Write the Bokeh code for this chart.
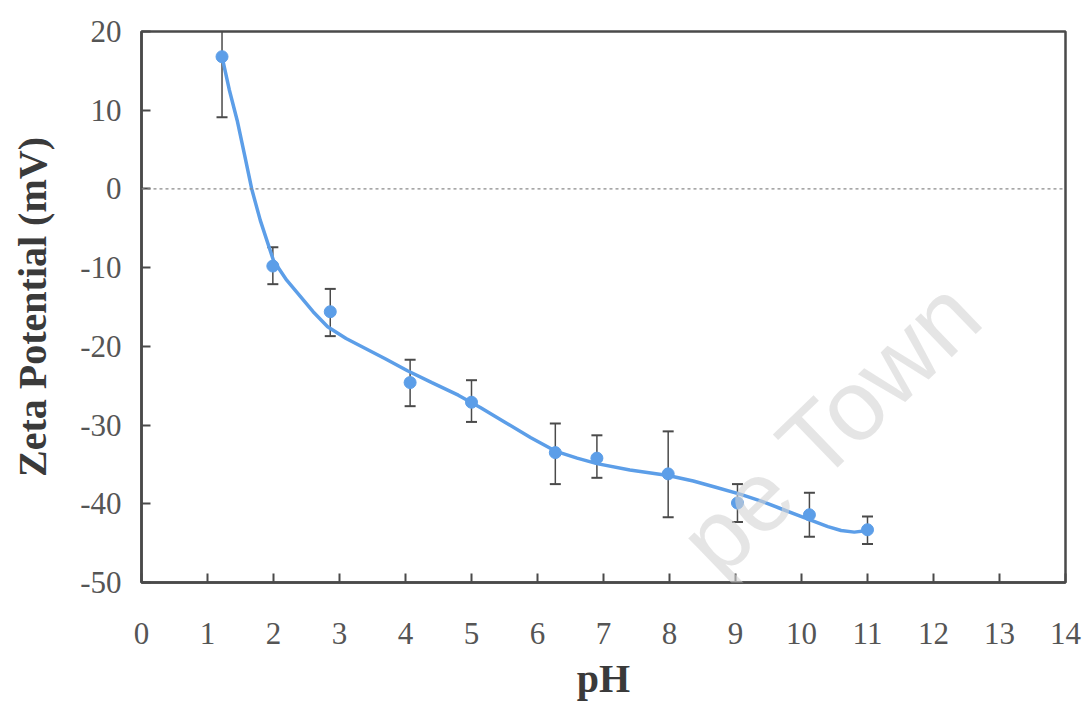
from bokeh.plotting import figure
from bokeh.models import Range1d, Span, Whisker, TeeHead, ColumnDataSource, Label, FixedTicker
from bokeh.embed import file_html
from bokeh.resources import INLINE
import math

# Measured zeta potential vs pH
ph = [1.22, 1.99, 2.86, 4.07, 5.0, 6.27, 6.9, 7.98, 9.03, 10.12, 11.0]
zeta = [16.8, -9.8, -15.6, -24.6, -27.1, -33.5, -34.2, -36.2, -39.9, -41.4, -43.3]
err_low = [9.1, -12.1, -18.7, -27.6, -29.6, -37.5, -36.7, -41.7, -42.3, -44.2, -45.1]
err_high = [20.5, -7.4, -12.7, -21.7, -24.3, -29.8, -31.3, -30.8, -37.5, -38.6, -41.6]

# Smoothed trend curve
fit_ph = [1.22, 1.33, 1.45, 1.56, 1.67, 1.8, 2.0, 2.2, 2.4, 2.6, 2.82, 3.1, 3.4, 3.7,
          4.03, 4.4, 4.8, 5.14, 5.5, 5.9, 6.27, 6.6, 6.9, 7.4, 7.98, 8.36, 8.7, 9.08,
          9.4, 9.68, 10.12, 10.4, 10.6, 10.8, 11.0]
fit_zeta = [16.8, 12.6, 8.7, 4.4, 0.0, -4.0, -9.1, -11.6, -13.6, -15.6, -17.5, -19.0,
            -20.3, -21.6, -23.1, -24.6, -26.2, -27.8, -29.6, -31.6, -33.3, -34.2, -34.9,
            -35.7, -36.4, -37.1, -37.9, -38.8, -39.7, -40.6, -42.0, -42.9, -43.4, -43.6,
            -43.4]

x_ticks = list(range(0, 15))
y_ticks = list(range(-50, 21, 10))

SERIF = "Liberation Serif"
BLUE = "#5c9ee8"
DARK = "#4a4a4a"

p = figure(width=1083, height=705, x_range=Range1d(0, 14), y_range=Range1d(-50, 20),
           min_border_left=141, min_border_right=18, min_border_top=31, min_border_bottom=123,
           output_backend="svg", toolbar_location=None, background_fill_color="white",
           border_fill_color="white")
p.grid.visible = False

p.outline_line_color = DARK
p.outline_line_width = 2.5

for ax in (p.xaxis[0], p.yaxis[0]):
    ax.axis_line_color = DARK
    ax.axis_line_width = 2.5
    ax.major_tick_line_color = DARK
    ax.major_tick_line_width = 2
    ax.major_tick_in = 9
    ax.major_tick_out = 0
    ax.minor_tick_line_color = None
    ax.major_label_text_font = SERIF
    ax.major_label_text_font_size = "31px"
    ax.major_label_text_color = "#555555"
    ax.axis_label_text_font = SERIF
    ax.axis_label_text_font_style = "bold"
    ax.axis_label_text_font_size = "40px"
    ax.axis_label_text_color = "#3a3a3a"

p.xaxis.ticker = FixedTicker(ticks=x_ticks)
p.yaxis.ticker = FixedTicker(ticks=y_ticks)
# plain hyphen for negative values
p.yaxis.major_label_overrides = {t: str(t) for t in y_ticks}
p.xaxis.major_label_standoff = 40
p.yaxis.major_label_standoff = 20
p.xaxis.axis_label = "pH"
p.yaxis.axis_label = "Zeta Potential (mV)"
p.xaxis.axis_label_standoff = 9
p.yaxis.axis_label_standoff = 22

# zero reference line
p.add_layout(Span(location=0, dimension="width", line_color="#8a8a8a",
                  line_width=1.2, line_dash="3 3"))

src = ColumnDataSource(dict(x=ph, y=zeta, lo=err_low, hi=err_high))
p.add_layout(Whisker(source=src, base="x", lower="lo", upper="hi",
                     line_color=DARK, line_width=1.5,
                     upper_head=TeeHead(size=11, line_color=DARK, line_width=2),
                     lower_head=TeeHead(size=11, line_color=DARK, line_width=2)))

p.line(fit_ph, fit_zeta, line_color=BLUE, line_width=3.5)
p.scatter("x", "y", source=src, size=12, fill_color=BLUE, line_color=BLUE)

# faint watermark
p.add_layout(Label(x=8.4, y=-46.6, text="pe Town", angle=math.radians(44),
                   text_font="Liberation Sans", text_font_size="100px",
                   text_color="#d4d4d4", text_alpha=0.6,
                   text_align="left", text_baseline="alphabetic"))

open("out.html", "w").write(file_html(p, INLINE))
